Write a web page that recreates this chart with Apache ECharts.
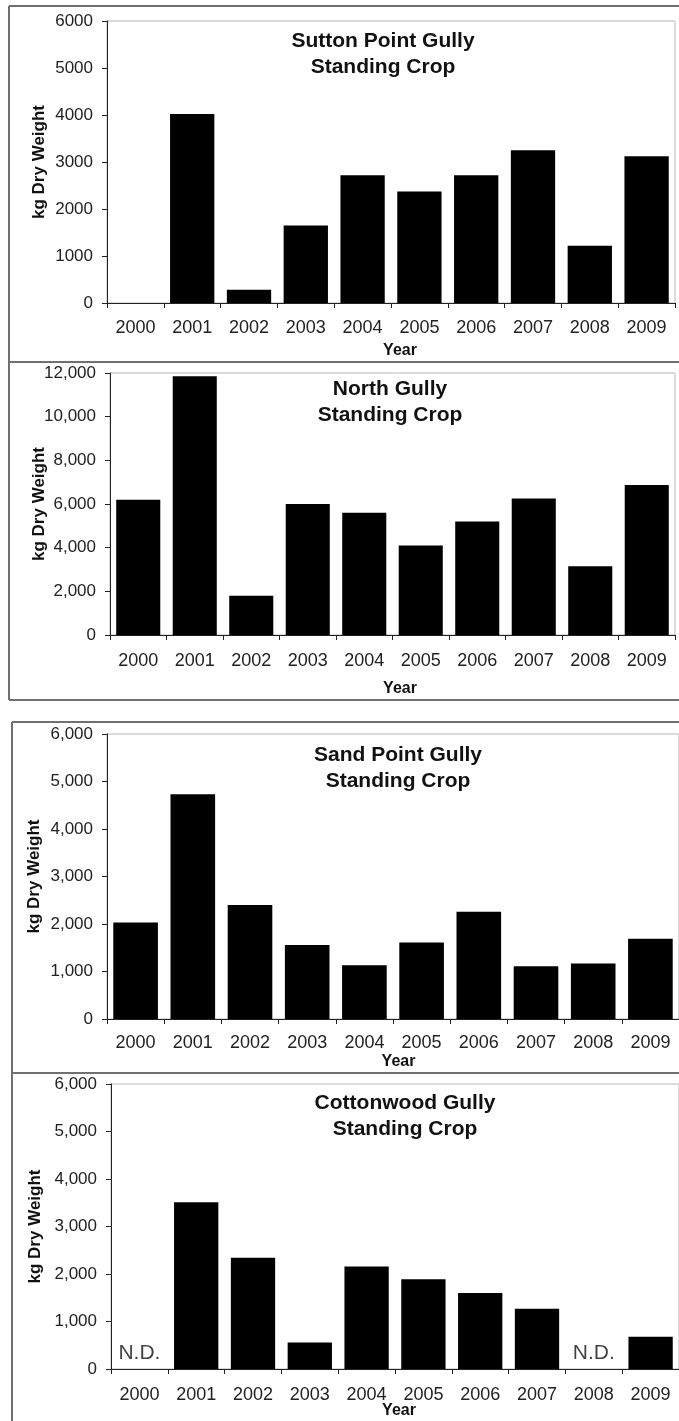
<!DOCTYPE html>
<html>
<head>
<meta charset="utf-8">
<title>Gully Standing Crop 2000–2009</title>
<script src="https://cdn.jsdelivr.net/npm/echarts@6/dist/echarts.min.js"></script>
<style>
  html, body { margin: 0; padding: 0; background: #fff; }
  #chart { width: 679px; height: 1421px; }
</style>
</head>
<body>
<div id="chart"></div>
<script>
// Standing crop (kg dry weight) by year for four gullies
const years = ['2000', '2001', '2002', '2003', '2004', '2005', '2006', '2007', '2008', '2009'];

const suttonPoint = [0, 4020, 280, 1650, 2720, 2370, 2720, 3250, 1220, 3120];
const northGully  = [6200, 11850, 1800, 6000, 5600, 4100, 5200, 6250, 3150, 6870];
const sandPoint   = [2030, 4730, 2400, 1560, 1130, 1610, 2260, 1110, 1170, 1690];
// null = no data collected (N.D.)
const cottonwood  = [null, 3510, 2340, 560, 2160, 1890, 1600, 1270, null, 680];

const panelTitles = [
  'Sutton Point Gully\nStanding Crop',
  'North Gully\nStanding Crop',
  'Sand Point Gully\nStanding Crop',
  'Cottonwood Gully\nStanding Crop'
];
const yMax       = [6000, 12000, 6000, 6000];
const yStep      = [1000, 2000, 1000, 1000];
const yUseComma  = [false, true, true, true];
const yAxisTitle = 'kg Dry Weight';
const xAxisTitle = 'Year';
const noDataText = 'N.D.';

const seriesValues = [suttonPoint, northGully, sandPoint, cottonwood];

// Layout of each panel
const panels = [
  { grid: { left: 107, top: 21,   width: 568, height: 282 }, title: { x: 383, y: 28 },   nameGap: 59, yearGap: 40, yearPad: 18, labMargin: 16 },
  { grid: { left: 110, top: 373,  width: 565, height: 262 }, title: { x: 390, y: 376 },  nameGap: 62, yearGap: 46, yearPad: 15, labMargin: 17 },
  { grid: { left: 107, top: 734,  width: 575, height: 285 }, title: { x: 398, y: 742 },  nameGap: 64, yearGap: 35, yearPad: 11, labMargin: 15 },
  { grid: { left: 111, top: 1084, width: 572, height: 285 }, title: { x: 405, y: 1090 }, nameGap: 67, yearGap: 34, yearPad: 8,  labMargin: 17 }
];

const FONT = '"Liberation Sans", Arial, Helvetica, sans-serif';
const AXIS_DARK = '#222';

const grids = [], xAxes = [], yAxes = [], series = [], titles = [];

panels.forEach((p, i) => {
  grids.push(Object.assign({
    show: true,
    borderColor: '#b8b8b8',
    borderWidth: 1,
    backgroundColor: 'transparent'
  }, p.grid));

  titles.push({
    text: panelTitles[i],
    left: p.title.x,
    top: p.title.y,
    textAlign: 'center',
    padding: 0,
    textStyle: {
      fontFamily: FONT,
      fontWeight: 'bold',
      fontSize: 21,
      lineHeight: 26,
      color: '#111'
    }
  });

  xAxes.push({
    type: 'category',
    gridIndex: i,
    data: years,
    boundaryGap: true,
    name: xAxisTitle,
    nameLocation: 'middle',
    nameGap: p.yearGap,
    nameMoveOverlap: false,
    nameTextStyle: {
      fontFamily: FONT, fontWeight: 'bold', fontSize: 16, color: '#111',
      padding: [0, 0, 0, p.yearPad]
    },
    axisLine: { show: true, lineStyle: { color: AXIS_DARK, width: 1 } },
    axisTick: { show: true, inside: false, length: 5, alignWithLabel: false, lineStyle: { color: AXIS_DARK } },
    axisLabel: {
      interval: 0, margin: p.labMargin,
      fontFamily: FONT, fontSize: 18, color: '#222'
    },
    splitLine: { show: false }
  });

  yAxes.push({
    type: 'value',
    gridIndex: i,
    min: 0,
    max: yMax[i],
    interval: yStep[i],
    name: yAxisTitle,
    nameLocation: 'middle',
    nameRotate: 90,
    nameGap: p.nameGap,
    nameMoveOverlap: false,
    nameTextStyle: { fontFamily: FONT, fontWeight: 'bold', fontSize: 17, color: '#111' },
    axisLine: { show: true, lineStyle: { color: AXIS_DARK, width: 1 } },
    axisTick: { show: true, inside: false, length: 5, lineStyle: { color: AXIS_DARK } },
    axisLabel: {
      margin: 14,
      fontFamily: FONT, fontSize: 17, color: '#222',
      formatter: v => yUseComma[i] ? v.toLocaleString('en-US') : String(v)
    },
    splitLine: { show: false }
  });

  series.push({
    type: 'bar',
    xAxisIndex: i,
    yAxisIndex: i,
    data: seriesValues[i],
    barCategoryGap: '22%',
    itemStyle: { color: '#000' },
    silent: true
  });

  // "N.D." markers for years without data
  const missing = [];
  seriesValues[i].forEach((v, k) => { if (v === null) missing.push([years[k], 0]); });
  if (missing.length) {
    series.push({
      type: 'scatter',
      xAxisIndex: i,
      yAxisIndex: i,
      data: missing,
      symbolSize: 0,
      silent: true,
      label: {
        show: true,
        position: 'top',
        distance: 5,
        formatter: noDataText,
        fontFamily: FONT,
        fontSize: 21,
        color: '#111'
      }
    });
  }
});

// Outer frames around the two pairs of panels
const frameStyle = { stroke: '#707070', lineWidth: 2 };
const frameLine = (x1, y1, x2, y2) => ({
  type: 'line', silent: true, z: 100,
  shape: { x1, y1, x2, y2 }, style: frameStyle
});
const frames = [
  frameLine(9, 6, 679, 6),
  frameLine(9, 6, 9, 700),
  frameLine(9, 362, 679, 362),
  frameLine(9, 700, 679, 700),
  frameLine(12, 722, 679, 722),
  frameLine(12, 722, 12, 1421),
  frameLine(12, 1073, 679, 1073)
];

const chart = echarts.init(document.getElementById('chart'), null, { renderer: 'canvas' });
chart.setOption({
  animation: false,
  backgroundColor: '#fff',
  title: titles,
  grid: grids,
  xAxis: xAxes,
  yAxis: yAxes,
  series: series,
  graphic: frames
});
</script>
</body>
</html>
